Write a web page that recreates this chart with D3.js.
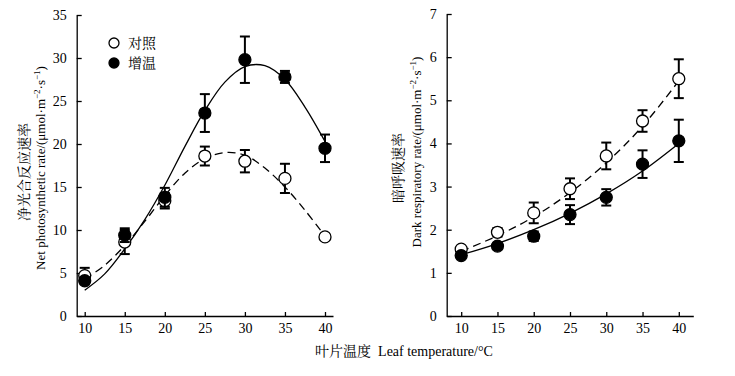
<!DOCTYPE html>
<html>
<head>
<meta charset="utf-8">
<script src="https://cdn.jsdelivr.net/npm/d3@7"></script>
<style>
  body { margin: 0; background: #fff; }
  text { font-family: "Liberation Serif", "Times New Roman", "Noto Serif CJK SC", "Noto Sans CJK SC", serif; }
</style>
</head>
<body>
<div id="my_dataviz"></div>
<script>

// leaf temperature (°C)
const temps = [10, 15, 20, 25, 30, 35, 40]

// net photosynthetic rate
const photoCtrl = [4.7, 8.6, 13.4, 18.6, 18.0, 16.0, 9.2]
const photoCtrlErr = [0.9, 1.4, 0.9, 1.1, 1.3, 1.7, 0.3]
const photoWarm = [4.1, 9.4, 13.8, 23.6, 29.8, 27.8, 19.5]
const photoWarmErr = [0.4, 0.8, 1.1, 2.2, 2.7, 0.7, 1.6]

// dark respiratory rate
const respCtrl = [1.55, 1.94, 2.39, 2.95, 3.71, 4.52, 5.5]
const respCtrlErr = [0.05, 0.1, 0.24, 0.24, 0.31, 0.25, 0.45]
const respWarm = [1.4, 1.62, 1.85, 2.35, 2.75, 3.52, 4.06]
const respWarmErr = [0.05, 0.07, 0.11, 0.22, 0.19, 0.32, 0.49]

// fitted curves
const fitXL = [10, 12.5, 15, 17.5, 20, 22.5, 25, 27.5, 30, 32.5, 35, 37.5, 40]
const fitPhotoWarm = [3.0, 4.9, 7.8, 11.2, 15.2, 19.7, 23.9, 27.2, 29.0, 29.1, 27.5, 24.3, 20.3]
const fitPhotoCtrl = [4.3, 5.9, 8.2, 11.0, 14.0, 16.6, 18.3, 19.0, 18.7, 17.2, 15.0, 12.3, 9.3]
const fitXR = [10, 15, 20, 25, 30, 35, 40]
const fitRespWarm = [1.42, 1.68, 2.0, 2.38, 2.83, 3.36, 4.0]
const fitRespCtrl = [1.5, 1.86, 2.3, 2.86, 3.55, 4.4, 5.45]

const legendNames = ["对照", "增温"]
const yTicksL = [0, 5, 10, 15, 20, 25, 30, 35]
const yTicksR = [0, 1, 2, 3, 4, 5, 6, 7]

const width = 735, height = 376

const svg = d3.select("#my_dataviz")
    .append("svg")
    .attr("width", width)
    .attr("height", height)

function drawPanel(opt) {
    const x = d3.scaleLinear().domain(opt.xDomain).range(opt.xRange)
    const y = d3.scaleLinear().domain(opt.yDomain).range([316, opt.yTop])
    const g = svg.append("g")

    // axes
    const xAxis = g.append("g")
        .attr("transform", `translate(0, 316)`)
        .call(d3.axisBottom(x).tickValues(temps).tickFormat(d3.format("d"))
            .tickSizeInner(-4).tickSizeOuter(0).tickPadding(7))
    const yAxis = g.append("g")
        .attr("transform", `translate(${opt.xRange[0]}, 0)`)
        .call(d3.axisLeft(y).tickValues(opt.yTicks).tickFormat(d3.format("d"))
            .tickSizeInner(-5).tickSizeOuter(0).tickPadding(10))

    g.selectAll(".domain, .tick line")
        .attr("stroke", "black")
        .attr("stroke-width", 1.3)
    g.selectAll(".tick text")
        .style("font-size", "14px")
        .attr("fill", "black")
    xAxis.attr("font-family", null).attr("font-size", null)
    yAxis.attr("font-family", null).attr("font-size", null)

    // fitted curves
    const line = d3.line()
        .x(function(d){ return x(d[0]) })
        .y(function(d){ return y(d[1]) })
        .curve(d3.curveCatmullRom)

    g.append("path")
        .datum(opt.fitX.map(function(v, i){ return [v, opt.fitCtrl[i]] }))
        .attr("d", line)
        .attr("fill", "none")
        .attr("stroke", "black")
        .attr("stroke-width", 1.3)
        .attr("stroke-dasharray", "8,5")

    g.append("path")
        .datum(opt.fitX.map(function(v, i){ return [v, opt.fitWarm[i]] }))
        .attr("d", line)
        .attr("fill", "none")
        .attr("stroke", "black")
        .attr("stroke-width", 1.3)

    const series = [
        {vals: opt.ctrl, err: opt.ctrlErr, fill: "white"},
        {vals: opt.warm, err: opt.warmErr, fill: "black"}
    ]

    series.forEach(function(s) {
        const pts = temps.map(function(t, i){ return {t: t, v: s.vals[i], e: s.err[i]} })
        const eb = g.append("g").selectAll("g")
            .data(pts)
            .join("g")
            .attr("stroke", "black")
            .attr("stroke-width", 2)
        eb.append("line")
            .attr("x1", function(d){ return x(d.t) })
            .attr("x2", function(d){ return x(d.t) })
            .attr("y1", function(d){ return y(d.v - d.e) })
            .attr("y2", function(d){ return y(d.v + d.e) })
        eb.append("line")
            .attr("x1", function(d){ return x(d.t) - 5 })
            .attr("x2", function(d){ return x(d.t) + 5 })
            .attr("y1", function(d){ return y(d.v + d.e) })
            .attr("y2", function(d){ return y(d.v + d.e) })
        eb.append("line")
            .attr("x1", function(d){ return x(d.t) - 5 })
            .attr("x2", function(d){ return x(d.t) + 5 })
            .attr("y1", function(d){ return y(d.v - d.e) })
            .attr("y2", function(d){ return y(d.v - d.e) })

        g.append("g").selectAll("circle")
            .data(pts)
            .join("circle")
            .attr("cx", function(d){ return x(d.t) })
            .attr("cy", function(d){ return y(d.v) })
            .attr("r", 6)
            .attr("fill", s.fill)
            .attr("stroke", "black")
            .attr("stroke-width", 1.3)
    })

    // y title, two lines
    g.append("text")
        .attr("transform", `translate(${opt.t1x}, ${opt.t1y}) rotate(-90)`)
        .attr("text-anchor", "middle")
        .style("font-size", "14px")
        .text(opt.title1)

    const t2 = g.append("text")
        .attr("transform", `translate(${opt.t2x}, ${opt.t2y}) rotate(-90)`)
        .attr("text-anchor", "middle")
        .style("font-size", "13px")
    t2.append("tspan").text(opt.title2 + "/(μmol·m")
    t2.append("tspan").attr("dy", -5).style("font-size", "9px").text("−2")
    t2.append("tspan").attr("dy", 5).text("·s")
    t2.append("tspan").attr("dy", -5).style("font-size", "9px").text("−1")
    t2.append("tspan").attr("dy", 5).text(")")
}

drawPanel({
    xDomain: [9, 41], xRange: [76.7, 333],
    yDomain: [0, 35], yTop: 15, yTicks: yTicksL,
    ctrl: photoCtrl, ctrlErr: photoCtrlErr, warm: photoWarm, warmErr: photoWarmErr,
    fitX: fitXL, fitCtrl: fitPhotoCtrl, fitWarm: fitPhotoWarm,
    title1: "净光合反应速率", t1x: 29, t1y: 172,
    title2: "Net photosynthetic rate", t2x: 45, t2y: 168
})

drawPanel({
    xDomain: [8, 42], xRange: [446.7, 693.3],
    yDomain: [0, 7], yTop: 14, yTicks: yTicksR,
    ctrl: respCtrl, ctrlErr: respCtrlErr, warm: respWarm, warmErr: respWarmErr,
    fitX: fitXR, fitCtrl: fitRespCtrl, fitWarm: fitRespWarm,
    title1: "暗呼吸速率", t1x: 403, t1y: 168,
    title2: "Dark respiratory rate", t2x: 421, t2y: 152
})

// legend
const legend = svg.append("g")
    .selectAll("g")
    .data(legendNames)
    .join("g")
    .attr("transform", function(d, i){ return `translate(114, ${43 + i * 20})` })

legend.append("circle")
    .attr("r", 5)
    .attr("fill", function(d, i){ return i === 0 ? "white" : "black" })
    .attr("stroke", "black")
    .attr("stroke-width", 1.3)

legend.append("text")
    .attr("x", 14)
    .attr("y", 5)
    .style("font-size", "14px")
    .text(function(d){ return d })

// x title
const xt = svg.append("text")
    .attr("x", 404)
    .attr("y", 356)
    .attr("text-anchor", "middle")
    .style("font-size", "14px")
xt.append("tspan").text("叶片温度")
xt.append("tspan").attr("dx", 7).text("Leaf temperature/°C")

</script>
</body>
</html>
